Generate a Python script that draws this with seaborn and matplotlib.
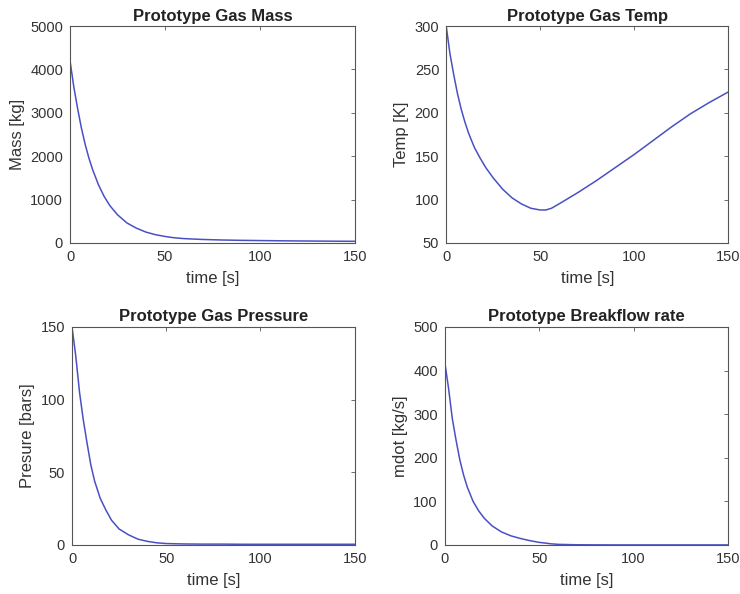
import matplotlib
matplotlib.use('Agg')
import matplotlib.pyplot as plt
import seaborn as sns
import pandas as pd

# time grid (s)
time_s = [0, 2, 4, 6, 8, 10, 12, 15, 18, 21, 25, 30, 35, 40, 45, 50, 53, 56, 60,
          70, 80, 90, 100, 110, 120, 130, 140, 150]

# values
mass_kg = [4200, 3600, 3100, 2650, 2270, 1950, 1680, 1340, 1070, 860, 650, 460, 340,
           250, 190, 150, 130, 115, 100, 80, 68, 60, 55, 50, 46, 43, 40, 38]
temp_k = [300, 268, 244, 222, 204, 189, 176, 160, 148, 137, 125, 112, 102, 95, 90,
          88, 88, 90, 95, 108, 122, 137, 152, 168, 184, 199, 212, 224]
pressure_bar = [150, 130, 105, 86, 70, 55, 44, 32, 24, 17, 11, 7, 4, 2.5, 1.5, 1.0,
                0.9, 0.8, 0.7, 0.6, 0.6, 0.5, 0.5, 0.5, 0.5, 0.5, 0.5, 0.5]
mdot_kgs = [420, 360, 290, 240, 195, 160, 132, 100, 78, 61, 44, 30, 21, 15, 10, 6,
            4.5, 2.8, 1.5, 0.5, 0.3, 0.2, 0.2, 0.2, 0.2, 0.2, 0.2, 0.2]

df = pd.DataFrame({'time': time_s, 'mass': mass_kg, 'temp': temp_k,
                   'pres': pressure_bar, 'mdot': mdot_kgs})

sns.set_style('white')
plt.rcParams['font.family'] = ['Liberation Sans', 'DejaVu Sans']

line_color = '#4a50c4'
fig = plt.figure(figsize=(7.4, 5.94), dpi=100)

# (column, title, ylabel, ylim, yticks, axes rect)
panels = [
    ('mass', 'Prototype Gas Mass', 'Mass [kg]', (0, 5000), range(0, 5001, 1000),
     [0.0946, 0.591, 0.385, 0.365]),
    ('temp', 'Prototype Gas Temp', 'Temp [K]', (50, 300), range(50, 301, 50),
     [0.603, 0.591, 0.381, 0.365]),
    ('pres', 'Prototype Gas Pressure', 'Presure [bars]', (0, 150), range(0, 151, 50),
     [0.0973, 0.0825, 0.382, 0.367]),
    ('mdot', 'Prototype Breakflow rate', 'mdot [kg/s]', (0, 500), range(0, 501, 100),
     [0.601, 0.0825, 0.383, 0.367]),
]

for col, title, ylabel, ylim, yticks, rect in panels:
    ax = fig.add_axes(rect)
    sns.lineplot(data=df, x='time', y=col, ax=ax, color=line_color, linewidth=1.1)
    ax.set_xlim(0, 150)
    ax.set_ylim(*ylim)
    ax.set_xticks([0, 50, 100, 150])
    ax.set_yticks(list(yticks))
    ax.set_title(title, fontsize=12, fontweight='bold', color='#222222', pad=4)
    ax.set_xlabel('time [s]', fontsize=12, color='#333333', labelpad=5)
    ax.set_ylabel(ylabel, fontsize=12, color='#333333', labelpad=4)
    ax.tick_params(direction='in', length=3, width=0.6, top=True, right=True,
                   labelsize=10.5, colors='#555555', labelcolor='#333333', pad=5)
    for s in ax.spines.values():
        s.set_color('#555555')
        s.set_linewidth(0.8)

plt.savefig('out.png', dpi=100)
